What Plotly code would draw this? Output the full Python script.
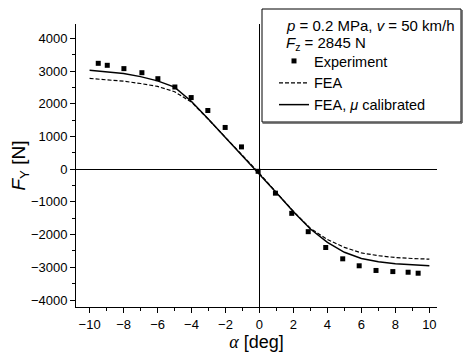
import plotly.graph_objects as go

# Experiment
alpha_exp = [-9.49, -8.96, -7.98, -6.92, -5.98, -4.98, -4.02, -3.04, -2.02, -1.06, -0.08,
             0.94, 1.9, 2.87, 3.9, 4.9, 5.87, 6.86, 7.85, 8.75, 9.34]
fy_exp = [3237, 3176, 3075, 2950, 2767, 2513, 2190, 1795, 1276, 682, -65,
          -733, -1350, -1910, -2394, -2740, -2953, -3096, -3130, -3150, -3180]

# FEA (dashed)
alpha_fea = [-10, -9, -8, -7, -6, -5, -4.5, -4, -3, -2, -1, 0, 1, 2, 3, 4, 5, 6, 7, 8, 9, 10]
fy_fea = [2775, 2740, 2690, 2620, 2530, 2370, 2220, 2050, 1520, 970, 400, -130, -715,
          -1290, -1810, -2150, -2390, -2560, -2645, -2700, -2730, -2750]

# FEA, mu calibrated (solid)
alpha_cal = [-10, -9, -8, -7, -6, -5, -4.5, -4, -3, -2, -1, 0, 1, 2, 3, 4, 5, 6, 7, 8, 9, 10]
fy_cal = [3025, 2985, 2925, 2830, 2700, 2510, 2300, 2070, 1530, 970, 400, -130, -720,
          -1300, -1830, -2240, -2540, -2730, -2830, -2890, -2925, -2955]

x_ticks = [-10, -8, -6, -4, -2, 0, 2, 4, 6, 8, 10]
y_ticks = [-4000, -3000, -2000, -1000, 0, 1000, 2000, 3000, 4000]

header_lines = ["<i>p</i> = 0.2 MPa, <i>v</i> = 50 km/h", "<i>F</i><sub>z</sub> = 2845 N"]

FONT = "Liberation Sans"
W, H = 463, 354
ML, MR, MT, MB = 76, 26, 24, 47
PW, PH = W - ML - MR, H - MT - MB


def px(xp):
    return (xp - ML) / PW


def py(yp):
    return (H - MB - yp) / PH


fig = go.Figure()
fig.add_trace(go.Scatter(x=alpha_exp, y=fy_exp, mode="markers", name="Experiment",
                         marker=dict(symbol="square", size=5, color="black")))
fig.add_trace(go.Scatter(x=alpha_fea, y=fy_fea, mode="lines", name="FEA",
                         line=dict(color="black", width=1.2, dash="4px,2px")))
fig.add_trace(go.Scatter(x=alpha_cal, y=fy_cal, mode="lines", name="FEA, <i>μ</i> calibrated",
                         line=dict(color="black", width=1.5)))

# legend frame (with a slight shadow on right/bottom as in the reference)
fig.add_shape(type="rect", xref="paper", yref="paper",
              x0=px(262), x1=px(461), y0=py(122), y1=py(9),
              line=dict(color="black", width=1), fillcolor="rgba(0,0,0,0)")
fig.add_shape(type="line", xref="paper", yref="paper",
              x0=px(262.5), x1=px(462), y0=py(123), y1=py(123),
              line=dict(color="#555", width=1.5))
fig.add_shape(type="line", xref="paper", yref="paper",
              x0=px(462), x1=px(462), y0=py(10), y1=py(123),
              line=dict(color="#555", width=1.5))

for i, (txt, yc) in enumerate(zip(header_lines, [25, 43])):
    fig.add_annotation(text=txt, xref="paper", yref="paper", x=px(284), y=py(yc),
                       xanchor="left", yanchor="middle", showarrow=False,
                       font=dict(size=15, family=FONT, color="black"))

fig.update_layout(
    width=W, height=H,
    margin=dict(l=ML, r=MR, t=MT, b=MB, autoexpand=False),
    paper_bgcolor="white", plot_bgcolor="white",
    font=dict(family=FONT, size=13, color="black"),
    showlegend=True,
    legend=dict(
        x=px(274), y=py(45), xanchor="left", yanchor="top",
        xref="paper", yref="paper",
        borderwidth=0, bgcolor="rgba(0,0,0,0)",
        font=dict(size=14.5), tracegroupgap=0, itemwidth=30,
    ),
    xaxis=dict(
        range=[-10.8, 10.45], tickvals=x_ticks, ticks="outside", ticklen=5,
        tickcolor="black", showline=True, linecolor="black", linewidth=1,
        showgrid=False, zeroline=True, zerolinecolor="black", zerolinewidth=1,
        minor=dict(dtick=1, ticks="outside", ticklen=3, tickcolor="black", showgrid=False),
        tickfont=dict(size=13),
        title=dict(text="<span style='font-family:Liberation Serif'><i>α</i></span> [deg]",
                   font=dict(size=18), standoff=3),
    ),
    yaxis=dict(
        range=[-4213, 4439], tickvals=y_ticks, ticks="outside", ticklen=5,
        tickcolor="black", showline=True, linecolor="black", linewidth=1,
        showgrid=False, zeroline=True, zerolinecolor="black", zerolinewidth=1,
        minor=dict(dtick=500, ticks="outside", ticklen=3, tickcolor="black", showgrid=False),
        tickfont=dict(size=13),
        title=dict(text="<i>F</i><sub>Y</sub> [N]", font=dict(size=19), standoff=0),
    ),
)

fig.write_html("out.html")
